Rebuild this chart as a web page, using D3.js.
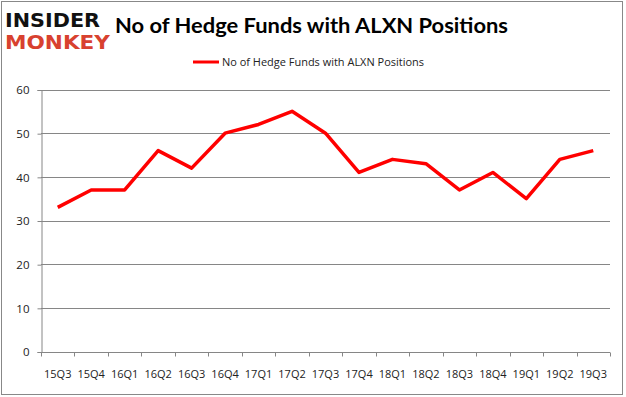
<!DOCTYPE html>
<html>
<head>
<meta charset="utf-8">
<script src="https://cdn.jsdelivr.net/npm/d3@7"></script>
<style>
  body { margin: 0; background: #fff; }
  svg { display: block; }
</style>
</head>
<body>
<div class="chart-box"></div>
<script>
// quarters and fund counts
const quarters = ["15Q3","15Q4","16Q1","16Q2","16Q3","16Q4","17Q1","17Q2","17Q3",
                  "17Q4","18Q1","18Q2","18Q3","18Q4","19Q1","19Q2","19Q3"];
const funds = [33, 37, 37, 46, 42, 50, 52, 55, 50, 41, 44, 43, 37, 41, 35, 44, 46];
const yTicks = [0, 10, 20, 30, 40, 50, 60];
const seriesName = "No of Hedge Funds with ALXN Positions";

const width = 626, height = 397;
const margin = {top: 89.5, right: 16, bottom: 45.5, left: 41};

const svg = d3.select(".chart-box")
  .append("svg")
  .attr("width", width)
  .attr("height", height);

// outer frame
svg.append("rect")
  .attr("x", 1.5).attr("y", 1.5)
  .attr("width", 621).attr("height", 393)
  .attr("fill", "#fff")
  .attr("stroke", "#888")
  .attr("stroke-width", 1);

// logo
svg.append("text")
  .attr("x", 5).attr("y", 27)
  .attr("textLength", 95).attr("lengthAdjust", "spacingAndGlyphs")
  .style("font", "bold 19px 'DejaVu Sans'")
  .attr("fill", "#111")
  .text("INSIDER");
svg.append("text")
  .attr("x", 5).attr("y", 49)
  .attr("textLength", 105).attr("lengthAdjust", "spacingAndGlyphs")
  .style("font", "bold 19px 'DejaVu Sans'")
  .attr("fill", "#d8412f")
  .text("MONKEY");

// title
svg.append("text")
  .attr("x", 115).attr("y", 33)
  .attr("textLength", 393).attr("lengthAdjust", "spacingAndGlyphs")
  .style("font", "bold 21px Lato")
  .attr("fill", "#000")
  .text("No of Hedge Funds with ALXN Positions");

// legend
svg.append("line")
  .attr("x1", 193).attr("x2", 219)
  .attr("y1", 62).attr("y2", 62)
  .attr("stroke", "#ff0000")
  .attr("stroke-width", 3);
svg.append("text")
  .attr("x", 222).attr("y", 66)
  .attr("textLength", 202).attr("lengthAdjust", "spacingAndGlyphs")
  .style("font", "11px 'Open Sans'")
  .attr("fill", "#222")
  .text(seriesName);

const x = d3.scaleBand()
  .domain(quarters)
  .range([margin.left, width - margin.right]);

const y = d3.scaleLinear()
  .domain([0, 60])
  .range([height - margin.bottom, margin.top]);

// gridlines
svg.append("g")
  .selectAll("line")
  .data(yTicks.filter(d => d > 0))
  .join("line")
  .attr("x1", margin.left).attr("x2", width - margin.right)
  .attr("y1", d => Math.round(y(d)) + 0.5)
  .attr("y2", d => Math.round(y(d)) + 0.5)
  .attr("stroke", "#868686");

// y axis
const yAxis = svg.append("g")
  .attr("transform", "translate(" + (margin.left + 0.5) + ",0.5)")
  .call(d3.axisLeft(y).tickValues(yTicks).tickSize(4).tickPadding(8));
yAxis.select(".domain").attr("stroke", "#868686");
yAxis.selectAll(".tick line").attr("stroke", "#868686");
yAxis.selectAll(".tick text")
  .style("font", "11.5px 'Open Sans'")
  .attr("fill", "#222");

// x axis with ticks between categories
const xAxis = svg.append("g")
  .attr("transform", "translate(0," + (Math.round(y(0)) + 0.5) + ")");
xAxis.append("line")
  .attr("x1", margin.left).attr("x2", width - margin.right)
  .attr("stroke", "#868686");
xAxis.selectAll(".sep")
  .data(quarters.concat(["end"]))
  .join("line")
  .attr("class", "sep")
  .attr("x1", (d, i) => Math.round(margin.left + i * x.step()) + 0.5)
  .attr("x2", (d, i) => Math.round(margin.left + i * x.step()) + 0.5)
  .attr("y1", 0).attr("y2", 4)
  .attr("stroke", "#868686");
xAxis.selectAll(".lbl")
  .data(quarters)
  .join("text")
  .attr("class", "lbl")
  .attr("x", d => x(d) + x.bandwidth() / 2)
  .attr("y", 25)
  .attr("text-anchor", "middle")
  .style("font", "11px 'Open Sans'")
  .attr("fill", "#222")
  .text(d => d);

// series line
const line = d3.line()
  .x((d, i) => x(quarters[i]) + x.bandwidth() / 2)
  .y(d => y(d));

svg.append("path")
  .datum(funds)
  .attr("d", line)
  .attr("fill", "none")
  .attr("stroke", "#ff0000")
  .attr("stroke-width", 3.5)
  .attr("stroke-linejoin", "round");
</script>
</body>
</html>
